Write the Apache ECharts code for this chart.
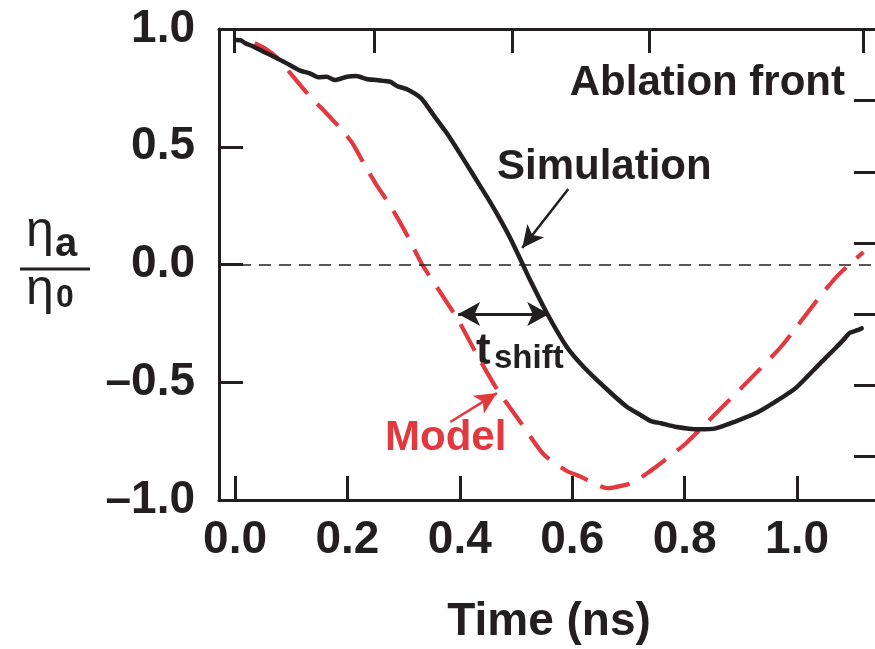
<!DOCTYPE html>
<html>
<head>
<meta charset="utf-8">
<script src="https://cdn.jsdelivr.net/npm/echarts@6/dist/echarts.min.js"></script>
<style>
  html, body { margin: 0; padding: 0; background: #ffffff; }
  #chart { width: 875px; height: 649px; }
</style>
</head>
<body>
<div id="chart"></div>
<script>
// Ablation-front perturbation amplitude, normalised to its initial value
const simTime = [0.000, 0.010, 0.018, 0.033, 0.050, 0.071, 0.092, 0.116, 0.133, 0.148, 0.163, 0.178,
  0.199, 0.216, 0.234, 0.252, 0.276, 0.288, 0.306, 0.331, 0.353, 0.377, 0.400, 0.424, 0.448, 0.469,
  0.490, 0.512, 0.525, 0.555, 0.590, 0.620, 0.663, 0.697, 0.722, 0.740, 0.758, 0.783, 0.825, 0.855,
  0.890, 0.926, 0.961, 0.997, 1.041, 1.065, 1.082, 1.094, 1.106, 1.115];
const simEta = [0.953, 0.952, 0.940, 0.925, 0.904, 0.880, 0.854, 0.823, 0.812, 0.795, 0.797, 0.783,
  0.797, 0.800, 0.788, 0.783, 0.776, 0.758, 0.744, 0.706, 0.635, 0.557, 0.472, 0.380, 0.288, 0.203,
  0.110, 0.000, -0.066, -0.207, -0.349, -0.434, -0.533, -0.604, -0.640, -0.665, -0.674, -0.689, -0.700, -0.696,
  -0.667, -0.632, -0.583, -0.526, -0.420, -0.363, -0.321, -0.290, -0.280, -0.271];

const modelTime = [0.035, 0.055, 0.074, 0.101, 0.136, 0.157, 0.193, 0.211, 0.234, 0.250, 0.279, 0.305,
  0.333, 0.363, 0.398, 0.429, 0.467, 0.505, 0.549, 0.591, 0.614, 0.644, 0.664, 0.691, 0.709, 0.733,
  0.747, 0.801, 0.855, 0.915, 0.973, 1.041, 1.073, 1.118];
const modelEta = [0.940, 0.915, 0.880, 0.805, 0.706, 0.656, 0.564, 0.507, 0.408, 0.345, 0.239, 0.130,
  0.000, -0.110, -0.240, -0.377, -0.533, -0.660, -0.806, -0.878, -0.900, -0.936, -0.950, -0.938, -0.926, -0.887,
  -0.863, -0.762, -0.634, -0.490, -0.345, -0.135, -0.045, 0.053];

// Axis ticks and labels
const xTicks = [0.0, 0.2, 0.4, 0.6, 0.8, 1.0];
const yTicks = [-1.0, -0.5, 0.0, 0.5, 1.0];
const topTicks = [-0.002, 0.247, 0.493, 0.737, 1.117];
const rightTicks = [0.699, 0.393, 0.091, -0.210, -0.512, -0.813];

// Annotation arrows: [time, eta] pairs
const shiftArrow = [[0.397, -0.21], [0.559, -0.21]];
const simArrow = [[0.593, 0.321], [0.511, 0.070]];
const modelArrow = [[0.383, -0.669], [0.466, -0.546]];

const INK = '#231f20';
const RED = '#e2393f';
const FONT = '"Liberation Sans", Arial, Helvetica, sans-serif';

const pairs = (xs, ys) => xs.map((x, i) => [x, ys[i]]);
const dashLabel = v => (v < 0 ? '\u2013' + Math.abs(v).toFixed(1) : v.toFixed(1));

const chart = echarts.init(document.getElementById('chart'), null, { renderer: 'canvas' });

const tickStyle = { show: true, inside: true, length: 24, lineStyle: { color: INK, width: 3 } };
const frameLine = { show: true, onZero: false, lineStyle: { color: INK, width: 3 } };

chart.setOption({
  backgroundColor: '#ffffff',
  animation: false,
  grid: { left: 219, top: 29, width: 659, height: 471, containLabel: false, outerBoundsMode: 'none' },
  xAxis: [
    {
      type: 'value', position: 'bottom', min: -0.0285, max: 1.144,
      axisLine: frameLine,
      axisTick: Object.assign({}, tickStyle, { customValues: xTicks }),
      axisLabel: {
        customValues: xTicks, formatter: v => v.toFixed(1), margin: 17,
        color: INK, fontSize: 46, fontWeight: 'bold', fontFamily: FONT
      },
      splitLine: { show: false }
    },
    {
      type: 'value', position: 'top', min: -0.0285, max: 1.144,
      axisLine: frameLine,
      axisTick: Object.assign({}, tickStyle, { customValues: topTicks }),
      axisLabel: { show: false },
      splitLine: { show: false }
    }
  ],
  yAxis: [
    {
      type: 'value', position: 'left', min: -1, max: 1,
      axisLine: frameLine,
      axisTick: Object.assign({}, tickStyle, { customValues: yTicks }),
      axisLabel: {
        customValues: yTicks, formatter: dashLabel, margin: 24,
        color: INK, fontSize: 46, fontWeight: 'bold', fontFamily: FONT
      },
      splitLine: { show: false }
    },
    {
      type: 'value', position: 'right', min: -1, max: 1,
      axisLine: frameLine,
      axisTick: Object.assign({}, tickStyle, { customValues: rightTicks }),
      axisLabel: { show: false },
      splitLine: { show: false }
    }
  ],
  series: [
    {
      name: 'Model', type: 'line', data: pairs(modelTime, modelEta),
      showSymbol: false, smooth: 0.2, z: 3,
      lineStyle: { color: RED, width: 4.2, type: [30, 14], cap: 'butt' }
    },
    {
      name: 'Simulation', type: 'line', data: pairs(simTime, simEta),
      showSymbol: false, smooth: 0.2, z: 4,
      lineStyle: { color: INK, width: 4.5, join: 'round', cap: 'round' },
      markLine: {
        silent: true, animation: false, label: { show: false },
        symbol: ['none', 'none'],
        itemStyle: { color: INK },
        data: [
          // zero reference
          { yAxis: 0, lineStyle: { color: INK, width: 1.6, type: [12, 8] } },
          [
            { coord: shiftArrow[0], symbol: 'arrow', symbolSize: [18, 22], lineStyle: { color: INK, width: 3, type: 'solid' } },
            { coord: shiftArrow[1], symbol: 'arrow', symbolSize: [18, 22] }
          ],
          [
            { coord: simArrow[0], symbol: 'none', lineStyle: { color: INK, width: 2.5, type: 'solid' } },
            { coord: simArrow[1], symbol: 'arrow', symbolSize: [16, 22] }
          ],
          [
            { coord: modelArrow[0], symbol: 'none', lineStyle: { color: RED, width: 2.5, type: 'solid' }, itemStyle: { color: RED } },
            { coord: modelArrow[1], symbol: 'arrow', symbolSize: [16, 22], itemStyle: { color: RED } }
          ]
        ]
      }
    }
  ],
  graphic: [
    { type: 'text', x: 845, y: 83, style: { text: 'Ablation front', fill: INK, font: 'bold 42px ' + FONT, align: 'right', verticalAlign: 'middle' } },
    { type: 'text', x: 497, y: 167, style: { text: 'Simulation', fill: INK, font: 'bold 42px ' + FONT, align: 'left', verticalAlign: 'middle' } },
    { type: 'text', x: 385, y: 438, style: { text: 'Model', fill: RED, font: 'bold 42px ' + FONT, align: 'left', verticalAlign: 'middle' } },
    { type: 'text', x: 476, y: 352, style: { text: 't', fill: INK, font: 'bold 44px ' + FONT, align: 'left', verticalAlign: 'middle' } },
    { type: 'text', x: 494, y: 359, style: { text: 'shift', fill: INK, font: 'bold 33px ' + FONT, align: 'left', verticalAlign: 'middle' } },
    { type: 'text', x: 549, y: 622, style: { text: 'Time (ns)', fill: INK, font: 'bold 46px ' + FONT, align: 'center', verticalAlign: 'middle' } },
    // y-axis title: eta_a / eta_0
    { type: 'text', x: 26, y: 232, style: { text: '\u03b7', fill: INK, font: '50px ' + FONT, align: 'left', verticalAlign: 'middle' } },
    { type: 'text', x: 55, y: 245, style: { text: 'a', fill: INK, font: 'bold 40px ' + FONT, align: 'left', verticalAlign: 'middle' } },
    { type: 'line', shape: { x1: 20, y1: 269, x2: 90, y2: 269 }, style: { stroke: INK, lineWidth: 3 } },
    { type: 'text', x: 26, y: 290, style: { text: '\u03b7', fill: INK, font: '50px ' + FONT, align: 'left', verticalAlign: 'middle' } },
    { type: 'text', x: 56, y: 298, style: { text: '0', fill: INK, font: 'bold 32px ' + FONT, align: 'left', verticalAlign: 'middle' } }
  ]
});
</script>
</body>
</html>
